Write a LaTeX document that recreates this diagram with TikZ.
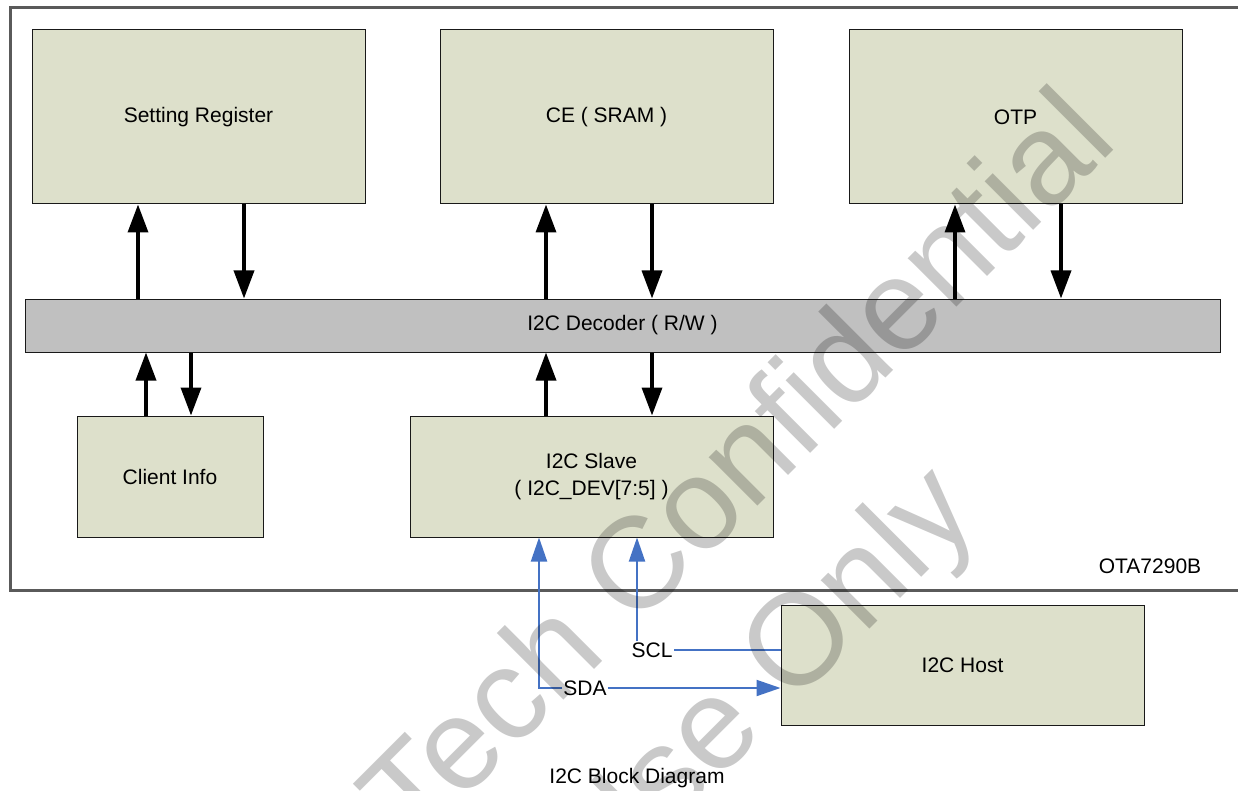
\documentclass[tikz,border=0pt]{standalone}
\usepackage{fontspec}
\setmainfont{Liberation Sans}
\usetikzlibrary{positioning,calc,arrows.meta}
\definecolor{blkfill}{RGB}{221,224,203}
\definecolor{decfill}{RGB}{192,192,192}
\definecolor{framegray}{RGB}{90,90,90}
\definecolor{linkblue}{RGB}{68,114,196}

\begin{document}
\begin{tikzpicture}[x=1pt,y=-1pt,on grid,
  blk/.style={draw=black!90,fill=blkfill,line width=1pt,inner sep=0pt,font=\fontsize{21}{27}\selectfont},
  bus/.style={line width=3.5pt,-{Triangle[length=28pt,width=20pt]}},
  link/.style={draw=linkblue,line width=2pt,-{Triangle[length=24pt,width=16pt]}},
  lbl/.style={inner sep=1pt,font=\fontsize{21}{27}\selectfont},
  wmark/.style={text=black,text opacity=0.21,font=\fontsize{130}{160}\selectfont,rotate=45,anchor=base west}]
\useasboundingbox (0,0) rectangle (1238,791);
\draw[framegray,line width=3pt] (1238,8) -| (10,590) -- (1238,590);
\node[blk,minimum width=333pt,minimum height=174pt] (reg) at (198.5,117) {Setting Register};
\node[blk,minimum width=333pt,minimum height=174pt,right=408pt of reg] (ce) {CE ( SRAM )};
\node[blk,minimum width=333pt,minimum height=174pt,right=409pt of ce] (otp) {OTP};
\node[blk,fill=decfill,minimum width=1195pt,minimum height=53pt,below=208.5pt of ce,xshift=16pt] (dec) {I2C Decoder ( R/W )};
\node[blk,minimum width=186pt,minimum height=121pt,below left=151pt and 452.5pt of dec] (cli) {Client Info};
\node[blk,align=center,minimum width=363pt,minimum height=121pt,right=421.5pt of cli] (slv) {I2C Slave\\( I2C\_DEV[7:5] )};
\node[blk,minimum width=363pt,minimum height=120pt,below right=188.5pt and 371pt of slv] (host) {I2C Host};
\foreach \b in {reg,ce,otp}{
  \draw[bus] ($(\b.south |- dec.north)+(-60.5,0)$) -- ($(\b.south)+(-60.5,0)$);
  \draw[bus] ($(\b.south)+(45.5,0)$) -- ($(\b.south |- dec.north)+(45.5,0)$);
}
\draw[bus] ($(cli.north)+(-24,0)$) -- ($(cli.north |- dec.south)+(-24,0)$);
\draw[bus] ($(cli.north |- dec.south)+(21,0)$) -- ($(cli.north)+(21,0)$);
\draw[bus] ($(slv.north)+(-45.5,0)$) -- ($(slv.north |- dec.south)+(-45.5,0)$);
\draw[bus] ($(slv.north |- dec.south)+(60.5,0)$) -- ($(slv.north)+(60.5,0)$);
\node[lbl] (scl) at (652,650) {SCL};
\node[lbl] (sda) at (585,688) {SDA};
\draw[link,-] (host.west |- scl) -- (scl.east);
\draw[link] ($(scl.north)+(-15,0)$) -- ($(slv.south)+(45.5,0)$);
\draw[link] (sda.west) -| ($(slv.south)+(-52.5,0)$);
\draw[link] (sda.east) -- (host.west |- sda);
\node[lbl] (chip) at (1150,566) {OTA7290B};
\node[lbl] (title) at (637,778) {I2C Block Diagram};
\node[wmark] (wm1) at (412,852) {Tech Confidential};
\node[wmark] (wm2) at (601,898) {Use Only};
\end{tikzpicture}
\end{document}
